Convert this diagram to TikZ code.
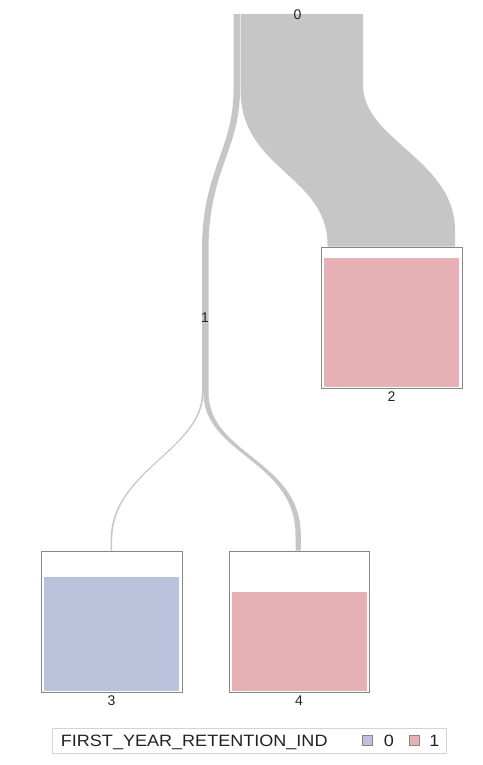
\documentclass[tikz,border=0pt]{standalone}
\usepackage{fontspec}
\setmainfont{Liberation Sans}
\newfontfamily\legfont[FakeStretch=1.1]{Liberation Sans}
\definecolor{flowgray}{HTML}{C6C6C6}
\definecolor{classone}{HTML}{E6B1B4}
\definecolor{classzero}{HTML}{BBC3DC}
\definecolor{boxline}{HTML}{868686}
\definecolor{legline}{HTML}{D4D4D4}
\definecolor{labeltext}{HTML}{222222}
\tikzset{
  flowband/.style={fill=flowgray, draw=none},
  leafbox/.style={rectangle, draw=boxline, line width=1pt, fill=white, inner sep=0pt},
  nodelabel/.style={inner sep=0pt, text=labeltext, font=\fontsize{14}{16}\selectfont},
  legtext/.style={inner sep=0pt, text=labeltext, font=\legfont\fontsize{16.4}{18}\selectfont},
  swatch/.style={rectangle, draw=boxline, line width=0.8pt, inner sep=0pt, minimum width=10pt, minimum height=10.5pt},
}
\begin{document}
\begin{tikzpicture}[x=1pt, y=-1pt]
\useasboundingbox (0,0) rectangle (482,765);

% leaf boxes (tree nodes 2, 3, 4)
\node[leafbox, minimum width=141pt, minimum height=141.5pt] (n2) at (391.5,317.75) {};
\node[leafbox, minimum width=141pt, minimum height=141pt] (n3) at (111.5,621.5) {};
\node[leafbox, minimum width=140pt, minimum height=141pt] (n4) at (299,621.5) {};

% class bars inside the leaves
\fill[classone]  (324,258)   rectangle (459,387);
\fill[classzero] (44,577)    rectangle (179,690.5);
\fill[classone]  (231.5,592) rectangle (366.5,690.5);

% flow band anchors
\coordinate (root) at (233.5,14);
\coordinate (split) at (205,393);

% root -> node 1 (narrow band that becomes the trunk of node 1)
\fill[flowband] (root) -- (233.5,90)
  .. controls (233.5,150) and (202,170) .. (202,250) -- (202,393)
  -- (208.5,393) -- (208.5,250)
  .. controls (208.5,170) and (240,150) .. (240,90) -- (240,14) -- cycle;

% root -> node 2 (wide band)
\fill[flowband] (240.6,14) -- (240.6,90)
  .. controls (240.6,170) and (327.5,175) .. (327.5,245) -- (n2.north -| 327.5,0)
  -- (n2.north -| 455,0) -- (455,230)
  .. controls (455,160) and (363,140) .. (363,85) -- (363,14) -- cycle;

% node 1 -> node 3 (thin band)
\fill[flowband] (201.9,392) .. controls (201.9,450) and (110.6,470) .. (110.6,540)
  -- (n3.north -| 110.6,0) -- (n3.north -| 112.2,0) -- (112.2,540)
  .. controls (112.2,470) and (203.5,450) .. (203.5,392) -- cycle;

% node 1 -> node 4
\fill[flowband] (203.3,392) .. controls (203.3,455) and (295.5,460) .. (295.5,535)
  -- (n4.north -| 295.5,0) -- (n4.north -| 300.8,0) -- (300.8,535)
  .. controls (300.8,460) and (208.5,455) .. (208.5,392) -- cycle;

% node labels
\node[nodelabel] (l0) at (297.5,14.5) {0};
\node[nodelabel] (l1) at (205,318) {1};
\node[nodelabel, below=3pt] (l2) at (n2.south) {2};
\node[nodelabel, below=3pt] (l3) at (n3.south) {3};
\node[nodelabel, below=3pt] (l4) at (n4.south) {4};

% legend
\node[rectangle, draw=legline, line width=1pt, minimum width=393.5pt, minimum height=25.5pt, inner sep=0pt] (legend) at (249.25,740.75) {};
\node[legtext, anchor=base west] (legtitle) at (60.7,746.3) {FIRST\_YEAR\_RETENTION\_IND};
\node[swatch, fill=classzero] (sw0) at (367.3,740.6) {};
\node[legtext, anchor=base] (lg0) at (389,746.3) {0};
\node[swatch, fill=classone] (sw1) at (414.7,740.6) {};
\node[legtext, anchor=base] (lg1) at (434.5,746.3) {1};
\end{tikzpicture}
\end{document}
